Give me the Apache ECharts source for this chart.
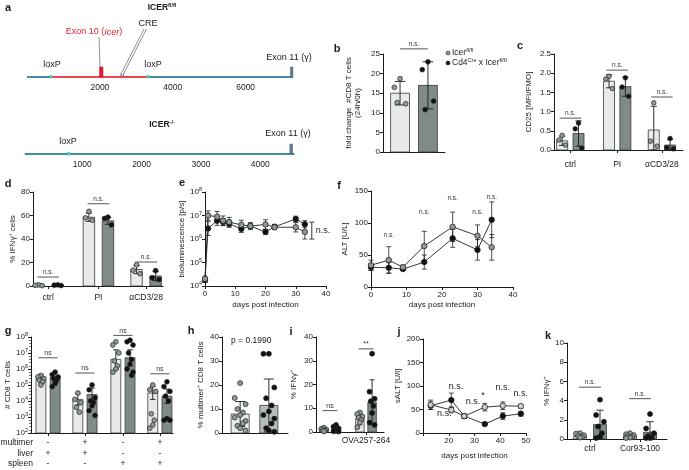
<!DOCTYPE html>
<html>
<head>
<meta charset="utf-8">
<script src="https://cdn.jsdelivr.net/npm/echarts@6/dist/echarts.min.js"></script>
<style>
  html, body { margin: 0; padding: 0; background: #fff; }
  #fig { width: 689px; height: 470px; }
</style>
</head>
<body>
<div id="fig"></div>
<script>
// ---------- data ----------
// a: genomic features (bp)
var aFlLine = [0, 7300];
var aFlFloxed = [660, 3320];
var aFlLoxP = [660, 3320];
var aFlExon10 = [1990, 2060];
var aFlCre = [2590, 2650];
var aFlExon11 = [7230, 7290];
var aKoLine = [30, 4580];
var aKoLoxP = [770];
var aKoExon11 = [4500, 4545];

// b: fold change #CD8 T cells (24h/0h)
var bMean = [15, 17];
var bSd = [3, 6];
var bPoints = [[18.7, 16.5, 12.3, 12.6], [23, 21, 13, 10.8]];
var bSigY = [26.3];

// c: CD25 [MFI/FMO]
var cCats = ['ctrl', 'PI', 'αCD3/28'];
var cFlMean = [0.24, 1.79, 0.52];
var cFlSd = [0.12, 0.17, 0.62];
var cCreMean = [0.43, 1.65, 0.13];
var cCreSd = [0.33, 0.25, 0.15];
var cFlPoints = [[0.38, 0.26, 0.13], [1.92, 1.85, 1.6], [1.23, 0.23, 0.1]];
var cCrePoints = [[0.70, 0.55, 0.05], [1.88, 1.64, 1.4], [0.3, 0.06, 0.03]];
var cSigY = [0.83, 2.08, 1.38];

// d: % IFNg+ cells
var dCats = ['ctrl', 'PI', 'αCD3/28'];
var dFlMean = [0.6, 58.5, 14];
var dFlSd = [0.3, 3.5, 3.5];
var dCreMean = [0.7, 55.5, 8.5];
var dCreSd = [0.3, 3, 4];
var dFlPoints = [[0.9, 0.6, 0.3], [63.5, 58, 56], [18, 13.5, 10.5]];
var dCrePoints = [[1, 0.7, 0.4], [58.5, 57.5, 52], [13, 7, 5.5]];
var dSigY = [7.6, 70, 20.4];

// e: bioluminescence (log10 p/s)
var eDays = [0, 1, 4, 6, 8, 12, 15, 20, 23, 30, 33];
var eFlLog = [4.3, 7.0, 6.95, 6.78, 6.72, 6.6, 6.55, 6.62, 6.5, 6.5, 6.3];
var eFlSdLog = [0.12, 0.2, 0.22, 0.2, 0.2, 0.2, 0.15, 0.2, 0.1, 0.2, 0.3];
var eCreLog = [4.25, 6.45, 6.78, 6.72, 6.65, 6.43, 6.55, 6.3, 6.52, 6.85, 6.63];
var eCreSdLog = [0.1, 0.3, 0.2, 0.15, 0.15, 0.15, 0.1, 0.1, 0.1, 0.12, 0.15];
var eSigBracket = [35.3, 6.0, 6.72];

// f: ALT [U/L]
var fDays = [0, 5, 9, 15, 23, 30, 34];
var fFl = [34, 42, 31, 64, 94, 80, 62];
var fFlSd = [8, 21, 3, 23, 23, 17, 20];
var fCre = [31, 30, 28, 39, 76, 58, 105];
var fCreSd = [5, 8, 2, 11, 14, 16, 28];
var fSigDays = [5, 15, 23, 30, 34];
var fSigY = [81, 117, 139, 117, 140];

// g: # CD8 T cells (log10)
var gMultimer = ['-', '+', '-', '+'];
var gLiver = ['+', '+', '-', '-'];
var gSpleen = ['-', '-', '+', '+'];
var gFlMeanLog = [5.35, 4.1, 6.6, 4.5];
var gFlSdLog = [0.3, 0.35, 0.6, 0.4];
var gCreMeanLog = [5.5, 4.4, 6.7, 4.3];
var gCreSdLog = [0.3, 0.4, 0.5, 0.45];
var gFlPointsLog = [[5.6, 5.5, 5.4, 5.3, 5.2, 5.0], [4.5, 4.1, 3.9, 3.6, 3.3],
  [7.7, 7.5, 7.0, 6.5, 6.2, 6.0, 5.8], [5.0, 4.7, 4.6, 3.2, 2.8, 2.5, 2.3]];
var gCrePointsLog = [[5.8, 5.65, 5.5, 5.4, 5.3, 5.1, 4.9], [5.0, 4.7, 4.2, 4.0, 3.9, 3.7, 3.4, 3.1],
  [7.8, 7.7, 7.5, 7.0, 6.6, 6.3, 6.0, 5.8, 5.6], [5.2, 4.9, 4.6, 4.3, 4.0, 2.9, 2.8, 2.8]];
var gSigLog = [6.7, 5.75, 8.1, 5.7];

// h: % multimer+ CD8 T cells
var hMean = [7.9, 11.5];
var hSd = [5.2, 11];
var hPoints = [[20.8, 14.6, 12, 10, 8.5, 7.5, 6.5, 5, 4, 3, 2, 1],
  [33, 33, 19, 14.5, 11.5, 9, 7.5, 6, 4, 2, 1, 0.5]];
var hPText = 'p = 0.1990';

// i: % IFNg+
var iCats = ['medium', 'OVA257-264'];
var iFlMean = [1.0, 5.6];
var iFlSd = [0.6, 2.6];
var iCreMean = [1.3, 12.5];
var iCreSd = [1.0, 9.5];
var iFlPoints = [[1.8, 1.3, 1.0, 0.7, 0.5, 0.3], [8.2, 7.5, 6.5, 6, 5, 4, 2]];
var iCrePoints = [[3.0, 2.2, 1.5, 1.0, 0.7, 0.5, 0.3, 0.2], [33, 17, 14, 13, 11, 8, 4, 3]];
var iSigY = [9, 35];
var iSigText = ['ns', '**'];

// j: sALT [U/l]
var jDays = [13, 21, 26, 34, 41, 48];
var jFl = [60, 49, 36, 55, 58, 57];
var jFlSd = [10, 6, 5, 8, 8, 4];
var jCre = [58, 70, 36, 19, 36, 41];
var jCreSd = [8, 15, 4, 3, 7, 5];
var jSigX = [18.3, 22.8, 29.4, 33.3, 41, 48];
var jSigY = [42, 98, 68, 80, 96, 85];
var jSigText = ['n.s.', 'n.s.', 'n.s.', '*', 'n.s.', 'n.s.'];

// k: % IFNg+
var kCats = ['ctrl', 'Cor93-100'];
var kFlMean = [0.3, 0.3];
var kFlSd = [0.15, 0.15];
var kCreMean = [1.5, 0.7];
var kCreSd = [1.5, 1.1];
var kFlPoints = [[0.6, 0.55, 0.4, 0.3, 0.2, 0.15], [0.6, 0.5, 0.4, 0.3, 0.2, 0.15, 0.1]];
var kCrePoints = [[4.1, 2.5, 1.8, 1.3, 0.6, 0.25, 0.1], [2.6, 1.1, 0.6, 0.3, 0.15, 0.1, 0.1]];
var kSigY = [5.4, 4.2];

// ---------- styles / layout ----------
var FONT = '"Liberation Sans", Arial, Helvetica, sans-serif';
var INK = '#1a1a1a';
var BAR_FILL = ['#e8ebe9', '#7f8b87', '#b3bebb'];
var DOT_FILL = ['#8d9a96', '#111111'];
var JIT = [0, -1, 1, -0.5, 0.5, 0, -1, 1, 0.5, -0.5, 0, 1];
var RICH = {
  s: { fontSize: 5.5, fontFamily: FONT, color: INK, padding: [0, 0, 5, 0] }
};

// slot positions of the categories on each bar panel's x axis
var bPos = [0.55, 1.45];
var cPos = [0.38, 1.47, 2.51];
var dPos = [0.35, 1.51, 2.61];
var gPos = [0.48, 1.52, 2.59, 3.63];
var hPos = [0.55, 1.42];
var iPos = [0.41, 1.47];
var kPos = [0.46, 1.46];

var grids = [
  { left: 27, top: 30, width: 266, height: 47 },   // a top
  { left: 23, top: 110, width: 271, height: 44 },  // a bottom
  { left: 383, top: 54, width: 62, height: 98 },   // b
  { left: 554, top: 54, width: 129, height: 96 },  // c
  { left: 33, top: 192, width: 130, height: 94 },  // d
  { left: 205, top: 192, width: 121, height: 94 }, // e
  { left: 371, top: 191, width: 142, height: 96 }, // f
  { left: 31, top: 337, width: 142, height: 96 },  // g
  { left: 222, top: 337, width: 66, height: 96 },  // h
  { left: 316, top: 337, width: 68, height: 95 },  // i
  { left: 423, top: 339, width: 103, height: 94 }, // j
  { left: 567, top: 343, width: 100, height: 96 }  // k
];

function axis(kind, gi, o) {
  o = o || {};
  return {
    type: 'value', gridIndex: gi, min: o.min, max: o.max, interval: o.interval,
    show: o.show !== false,
    name: o.name || '', nameLocation: 'middle', nameGap: o.nameGap || 15,
    nameRotate: kind === 'y' ? 90 : 0,
    nameTextStyle: { fontSize: 8, color: INK, fontFamily: FONT, lineHeight: 9, rich: RICH },
    axisLine: { show: o.line !== false, lineStyle: { color: INK, width: 1 } },
    axisTick: { show: o.ticks !== false, length: 3, lineStyle: { color: INK, width: 1 }, customValues: o.tickValues },
    minorTick: o.minor ? { show: true, splitNumber: 5, length: 2, lineStyle: { color: INK, width: 0.6 } } : { show: false },
    axisLabel: {
      show: o.labels !== false, fontSize: o.fontSize || 8, color: INK, fontFamily: FONT,
      margin: o.margin == null ? 3 : o.margin, formatter: o.formatter,
      customValues: o.labelValues, rich: RICH, lineHeight: o.lineHeight
    },
    splitLine: { show: false }
  };
}

function catFormatter(pos, names) {
  return function (v) {
    var best = 0;
    for (var i = 1; i < pos.length; i++) if (Math.abs(pos[i] - v) < Math.abs(pos[best] - v)) best = i;
    return names[best];
  };
}
function onlyValues(list) {
  return function (v) { return list.indexOf(v) >= 0 ? String(v) : ''; };
}
function pow10(v) { return '10{s|' + v + '}'; }

// ---------- render helpers ----------
function geneRender(params, api) {
  var s = api.coord([api.value(0), 0]), e = api.coord([api.value(1), 0]);
  var t = api.value(2), y = s[1], w = Math.max(e[0] - s[0], 0);
  if (t === 0) return { type: 'rect', shape: { x: s[0], y: y - 1, width: w, height: 2 }, style: { fill: '#3f8da6' } };
  if (t === 1) return { type: 'rect', shape: { x: s[0], y: y - 1, width: w, height: 2 }, style: { fill: '#ef4655' } };
  if (t === 2) return { type: 'rect', shape: { x: s[0] - 1.3, y: y - 2, width: 2.6, height: 3.5 }, style: { fill: '#4fcfae' } };
  if (t === 3) return { type: 'rect', shape: { x: s[0], y: y - 10, width: Math.max(w, 3.5), height: 10 }, style: { fill: '#e41f2d', stroke: '#b0141f', lineWidth: 0.5 } };
  if (t === 4) return {
    type: 'group', children: [
      { type: 'line', shape: { x1: s[0], y1: y - 3.5, x2: s[0], y2: y + 1 }, style: { stroke: '#666', lineWidth: 0.6 } },
      { type: 'line', shape: { x1: e[0], y1: y - 3.5, x2: e[0], y2: y + 1 }, style: { stroke: '#666', lineWidth: 0.6 } }
    ]
  };
  return { type: 'rect', shape: { x: s[0], y: y - 10, width: Math.max(w, 2.5), height: 10 }, style: { fill: '#5d7e8e', stroke: '#44606e', lineWidth: 0.5 } };
}

function barRender(bw, base) {
  return function (params, api) {
    var x = api.value(0), m = api.value(1), sd = api.value(2), kind = api.value(3);
    var u = api.size([1, 0])[0];
    var top = api.coord([x, m]), bot = api.coord([x, base]);
    var w = bw * u, cx = top[0];
    var hi = api.coord([x, m + sd])[1], lo = api.coord([x, Math.max(base, m - sd)])[1];
    var cap = Math.max(2, w * 0.28);
    var ls = { stroke: INK, lineWidth: 0.9 };
    return {
      type: 'group', children: [
        { type: 'rect', shape: { x: cx - w / 2, y: top[1], width: w, height: bot[1] - top[1] }, style: { fill: BAR_FILL[kind], stroke: '#3a3a3a', lineWidth: 0.8 } },
        { type: 'line', shape: { x1: cx, y1: hi, x2: cx, y2: lo }, style: ls },
        { type: 'line', shape: { x1: cx - cap, y1: hi, x2: cx + cap, y2: hi }, style: ls },
        { type: 'line', shape: { x1: cx - cap, y1: lo, x2: cx + cap, y2: lo }, style: ls }
      ]
    };
  };
}

function dotRender(r) {
  return function (params, api) {
    var p = api.coord([api.value(0), api.value(1)]);
    var u = api.size([1, 0])[0];
    return {
      type: 'circle', shape: { cx: p[0] + api.value(2) * u, cy: p[1], r: r },
      style: { fill: DOT_FILL[api.value(3)], stroke: '#222', lineWidth: 0.7 }
    };
  };
}

function sigRender(labels, fs, color) {
  return function (params, api) {
    var x1 = api.value(0), x2 = api.value(1), y = api.value(2), li = api.value(3);
    var a = api.coord([x1, y]), b = api.coord([x2, y]);
    var kids = [];
    if (x2 > x1) {
      kids.push({ type: 'line', shape: { x1: a[0], y1: a[1], x2: b[0], y2: b[1] }, style: { stroke: '#555', lineWidth: 1 } });
      kids.push({ type: 'text', x: (a[0] + b[0]) / 2, y: a[1] - 1, style: { text: labels[li], fontSize: fs, fontFamily: FONT, fill: color || '#333', align: 'center', verticalAlign: 'bottom' } });
    } else {
      kids.push({ type: 'text', x: a[0], y: a[1], style: { text: labels[li], fontSize: fs, fontFamily: FONT, fill: color || '#333', align: 'center', verticalAlign: 'middle' } });
    }
    return { type: 'group', children: kids };
  };
}

function errRender(params, api) {
  var x = api.value(0), m = api.value(1), sd = api.value(2);
  var hi = api.coord([x, m + sd]), lo = api.coord([x, m - sd]);
  var ls = { stroke: '#222', lineWidth: 0.8 };
  return {
    type: 'group', children: [
      { type: 'line', shape: { x1: hi[0], y1: hi[1], x2: lo[0], y2: lo[1] }, style: ls },
      { type: 'line', shape: { x1: hi[0] - 2.5, y1: hi[1], x2: hi[0] + 2.5, y2: hi[1] }, style: ls },
      { type: 'line', shape: { x1: lo[0] - 2.5, y1: lo[1], x2: lo[0] + 2.5, y2: lo[1] }, style: ls }
    ]
  };
}

function bracketRender(params, api) {
  var t = api.coord([api.value(0), api.value(2)]), b = api.coord([api.value(0), api.value(1)]);
  var ls = { stroke: '#222', lineWidth: 0.9 };
  return {
    type: 'group', children: [
      { type: 'line', shape: { x1: t[0], y1: t[1], x2: b[0], y2: b[1] }, style: ls },
      { type: 'line', shape: { x1: t[0] - 2.5, y1: t[1], x2: t[0] + 2.5, y2: t[1] }, style: ls },
      { type: 'line', shape: { x1: b[0] - 2.5, y1: b[1], x2: b[0] + 2.5, y2: b[1] }, style: ls },
      { type: 'text', x: t[0] + 4, y: (t[1] + b[1]) / 2, style: { text: 'n.s.', fontSize: 9, fontFamily: FONT, fill: '#222', align: 'left', verticalAlign: 'middle' } }
    ]
  };
}

function custom(gi, data, render, z) {
  return { type: 'custom', coordinateSystem: 'cartesian2d', xAxisIndex: gi, yAxisIndex: gi, data: data, renderItem: render, z: z || 2, clip: false, silent: true };
}

// groups: [{x, mean, sd, pts, kind}]
function barPanel(gi, groups, bw, base, r) {
  var bars = [], dots = [];
  groups.forEach(function (g) {
    bars.push([g.x, g.mean, g.sd, g.kind]);
    g.pts.forEach(function (v, k) { dots.push([g.x, v, JIT[k % JIT.length] * bw * 0.3, g.kind > 0 ? 1 : 0]); });
  });
  return [custom(gi, bars, barRender(bw, base), 2), custom(gi, dots, dotRender(r), 4)];
}

function pairGroups(pos, off, flMean, flSd, creMean, creSd, flPts, crePts, darkKind) {
  var out = [];
  pos.forEach(function (p, i) {
    out.push({ x: p - off, mean: flMean[i], sd: flSd[i], pts: flPts[i], kind: 0 });
    out.push({ x: p + off, mean: creMean[i], sd: creSd[i], pts: crePts[i], kind: darkKind || 1 });
  });
  return out;
}

function zip(xs, ys, extra) {
  return xs.map(function (x, i) { return extra ? [x, ys[i], extra[i]] : [x, ys[i]]; });
}

function lineSeries(gi, data, kind) {
  return {
    type: 'line', xAxisIndex: gi, yAxisIndex: gi, data: data, symbol: 'circle', symbolSize: 5.5,
    itemStyle: { color: DOT_FILL[kind], borderColor: '#222', borderWidth: 0.8 },
    lineStyle: { color: '#222', width: 0.9 }, z: 4 - kind, silent: true
  };
}

// ---------- axes ----------
var xAxes = [
  axis('x', 0, { min: 0, max: 7300, interval: 2000, line: false, ticks: false, margin: 6, fontSize: 8.5, formatter: onlyValues([2000, 4000, 6000]) }),
  axis('x', 1, { min: 0, max: 4570, interval: 1000, line: false, ticks: false, margin: 6, fontSize: 8.5, formatter: onlyValues([1000, 2000, 3000, 4000]) }),
  axis('x', 2, { min: 0, max: 2, ticks: false, labels: false }),
  axis('x', 3, { min: 0, max: 3, tickValues: cPos, labelValues: cPos, formatter: catFormatter(cPos, cCats), margin: 10, fontSize: 8.5 }),
  axis('x', 4, { min: 0, max: 3, tickValues: dPos, labelValues: dPos, formatter: catFormatter(dPos, dCats), margin: 7, fontSize: 8.5 }),
  axis('x', 5, { min: 0, max: 40, interval: 10, margin: 4, name: 'days post infection', nameGap: 14 }),
  axis('x', 6, { min: 0, max: 40, interval: 10, margin: 4, name: 'days post infection', nameGap: 12 }),
  axis('x', 7, {
    min: 0, max: 4, tickValues: gPos, labelValues: gPos, margin: 4.5, lineHeight: 10.5, fontSize: 8.5,
    formatter: function (v) {
      var i = catFormatter(gPos, [0, 1, 2, 3])(v);
      return gMultimer[i] + '\n' + gLiver[i] + '\n' + gSpleen[i];
    }
  }),
  axis('x', 8, { min: 0, max: 2, ticks: false, labels: false }),
  axis('x', 9, { min: 0, max: 2, tickValues: iPos, labelValues: iPos, formatter: catFormatter(iPos, iCats), margin: 4, fontSize: 8.5 }),
  axis('x', 10, { min: 10, max: 50, interval: 10, margin: 4, formatter: onlyValues([20, 30, 40, 50]), name: 'days post infection', nameGap: 18 }),
  axis('x', 11, { min: 0, max: 2, tickValues: kPos, labelValues: kPos, formatter: catFormatter(kPos, kCats), margin: 5, fontSize: 8.5 })
];

var yAxes = [
  axis('y', 0, { min: 0, max: 10, show: false }),
  axis('y', 1, { min: 0, max: 10, show: false }),
  axis('y', 2, { min: 0, max: 25, interval: 5, name: 'fold change  #CD8 T cells\n(24h/0h)', nameGap: 21 }),
  axis('y', 3, { min: 0, max: 2.5, interval: 0.5, name: 'CD25 [MFI/FMO]', nameGap: 21, formatter: function (v) { return v.toFixed(1); } }),
  axis('y', 4, { min: 0, max: 80, interval: 20, name: '% IFNγ{s|+} cells', nameGap: 16 }),
  axis('y', 5, { min: 4, max: 8, interval: 1, formatter: pow10, name: 'bioluminescence [p/s]', nameGap: 16 }),
  axis('y', 6, { min: 0, max: 150, interval: 50, name: 'ALT [U/L]', nameGap: 22 }),
  axis('y', 7, { min: 2, max: 8, interval: 1, formatter: pow10, minor: true, name: '# CD8 T cells', nameGap: 19 }),
  axis('y', 8, { min: 0, max: 40, interval: 10, name: '% multimer{s|+} CD8 T cells', nameGap: 17 }),
  axis('y', 9, { min: 0, max: 40, interval: 10, name: '% IFNγ{s|+}', nameGap: 18 }),
  axis('y', 10, { min: 0, max: 200, interval: 50, name: 'sALT [U/l]', nameGap: 14 }),
  axis('y', 11, { min: 0, max: 10, interval: 2, name: '% IFNγ{s|+}', nameGap: 12 })
];

// ---------- series ----------
var series = [];

// a
var aFlRows = [
  [aFlLine[0], aFlLine[1], 0], [aFlFloxed[0], aFlFloxed[1], 1],
  [aFlLoxP[0], aFlLoxP[0], 2], [aFlLoxP[1], aFlLoxP[1], 2],
  [aFlExon10[0], aFlExon10[1], 3], [aFlCre[0], aFlCre[1], 4], [aFlExon11[0], aFlExon11[1], 5]
];
var aKoRows = [
  [aKoLine[0], aKoLine[1], 0], [aKoLoxP[0], aKoLoxP[0], 2], [aKoExon11[0], aKoExon11[1], 5]
];
series.push(custom(0, aFlRows, geneRender), custom(1, aKoRows, geneRender));

// b
series = series.concat(barPanel(2, [
  { x: bPos[0], mean: bMean[0], sd: bSd[0], pts: bPoints[0], kind: 0 },
  { x: bPos[1], mean: bMean[1], sd: bSd[1], pts: bPoints[1], kind: 1 }
], 0.61, 0, 2.4));
series.push(custom(2, [[bPos[0], bPos[1], bSigY[0], 0]], sigRender(['n.s.'], 6.5), 5));

// c
var cOff = 0.19;
series = series.concat(barPanel(3, pairGroups(cPos, cOff, cFlMean, cFlSd, cCreMean, cCreSd, cFlPoints, cCrePoints), 0.256, 0, 2.3));
series.push(custom(3, cPos.map(function (p, i) { return [p - 0.25, p + 0.25, cSigY[i], 0]; }), sigRender(['n.s.'], 6.5), 5));

// d
var dOff = 0.22;
series = series.concat(barPanel(4, pairGroups(dPos, dOff, dFlMean, dFlSd, dCreMean, dCreSd, dFlPoints, dCrePoints), 0.265, 0, 2.4));
series.push(custom(4, dPos.map(function (p, i) { return [p - 0.25, p + 0.25, dSigY[i], 0]; }), sigRender(['n.s.'], 6.5), 5));

// e
series.push(custom(5, zip(eDays, eFlLog, eFlSdLog), errRender, 3));
series.push(custom(5, zip(eDays, eCreLog, eCreSdLog), errRender, 3));
series.push(lineSeries(5, zip(eDays, eCreLog), 1));
series.push(lineSeries(5, zip(eDays, eFlLog), 0));
series.push(custom(5, [eSigBracket], bracketRender, 5));

// f
series.push(custom(6, zip(fDays, fFl, fFlSd), errRender, 3));
series.push(custom(6, zip(fDays, fCre, fCreSd), errRender, 3));
series.push(lineSeries(6, zip(fDays, fCre), 1));
series.push(lineSeries(6, zip(fDays, fFl), 0));
series.push(custom(6, fSigDays.map(function (d, i) { return [d, d, fSigY[i], 0]; }), sigRender(['n.s.'], 6.5), 5));

// g
var gOff = 0.2;
series = series.concat(barPanel(7, pairGroups(gPos, gOff, gFlMeanLog, gFlSdLog, gCreMeanLog, gCreSdLog, gFlPointsLog, gCrePointsLog), 0.28, 2, 2.4));
series.push(custom(7, gPos.map(function (p, i) { return [p - 0.27, p + 0.27, gSigLog[i], 0]; }), sigRender(['ns'], 7), 5));

// h
series = series.concat(barPanel(8, [
  { x: hPos[0], mean: hMean[0], sd: hSd[0], pts: hPoints[0], kind: 0 },
  { x: hPos[1], mean: hMean[1], sd: hSd[1], pts: hPoints[1], kind: 2 }
], 0.55, 0, 2.5));

// i
var iOff = 0.18;
series = series.concat(barPanel(9, pairGroups(iPos, iOff, iFlMean, iFlSd, iCreMean, iCreSd, iFlPoints, iCrePoints), 0.25, 0, 2.5));
series.push(custom(9, iPos.map(function (p, i) { return [p - 0.22, p + 0.22, iSigY[i], i]; }), sigRender(iSigText, 7), 5));

// j
series.push(custom(10, zip(jDays, jFl, jFlSd), errRender, 3));
series.push(custom(10, zip(jDays, jCre, jCreSd), errRender, 3));
series.push(lineSeries(10, zip(jDays, jCre), 1));
var jFlLine = lineSeries(10, zip(jDays, jFl), 0);
jFlLine.itemStyle.color = '#c9d0cd';
series.push(jFlLine);
series.push(custom(10, jSigX.map(function (d, i) { return [d, d, jSigY[i], i]; }), sigRender(jSigText, 9, '#222'), 5));

// k
var kOff = 0.2;
series = series.concat(barPanel(11, pairGroups(kPos, kOff, kFlMean, kFlSd, kCreMean, kCreSd, kFlPoints, kCrePoints), 0.26, 0, 2.5));
series.push(custom(11, kPos.map(function (p, i) { return [p - 0.22, p + 0.22, kSigY[i], 0]; }), sigRender(['n.s.'], 6.5), 5));

// ---------- text annotations ----------
function txt(x, y, s, o) {
  o = o || {};
  return {
    type: 'text', x: x, y: y, z: 10,
    style: {
      text: s, fontSize: o.fs || 8.5, fontFamily: FONT, fontWeight: o.fw || 'normal',
      fill: o.color || INK, align: o.align || 'center', verticalAlign: 'middle', rich: o.rich
    }
  };
}
function seg(x1, y1, x2, y2, w) {
  return { type: 'line', z: 10, shape: { x1: x1, y1: y1, x2: x2, y2: y2 }, style: { stroke: '#444', lineWidth: w || 0.6 } };
}
var titleRich = {
  b: { fontSize: 8.5, fontWeight: 'bold', fontFamily: FONT, fill: INK },
  s: { fontSize: 5.5, fontWeight: 'bold', fontFamily: FONT, fill: INK, padding: [0, 0, 5, 0] }
};
var legRich = {
  t: { fontSize: 8.5, fontFamily: FONT, fill: INK },
  s: { fontSize: 5.5, fontFamily: FONT, fill: INK, padding: [0, 0, 5, 0] }
};
var exonRich = {
  r: { fontSize: 9, fontFamily: FONT, fill: '#e8202d' },
  i: { fontSize: 9, fontFamily: FONT, fill: '#e8202d', fontStyle: 'italic' }
};

var graphics = [
  txt(8, 8, 'a', { fs: 11, fw: 'bold' }),
  txt(337, 49, 'b', { fs: 11, fw: 'bold' }),
  txt(520, 46, 'c', { fs: 11, fw: 'bold' }),
  txt(8, 184, 'd', { fs: 11, fw: 'bold' }),
  txt(182, 183, 'e', { fs: 11, fw: 'bold' }),
  txt(339, 186, 'f', { fs: 11, fw: 'bold' }),
  txt(8, 331, 'g', { fs: 11, fw: 'bold' }),
  txt(191, 331, 'h', { fs: 11, fw: 'bold' }),
  txt(291, 332, 'i', { fs: 11, fw: 'bold' }),
  txt(399, 332, 'j', { fs: 11, fw: 'bold' }),
  txt(548, 336, 'k', { fs: 11, fw: 'bold' }),

  // panel a labels
  txt(162, 8, '{b|ICER}{s|fl/fl}', { rich: titleRich }),
  txt(162, 125, '{b|ICER}{s|-/-}', { rich: titleRich }),
  txt(94, 32, '{r|Exon 10 (}{i|Icer}{r|)}', { rich: exonRich }),
  seg(99, 37, 100, 67),
  txt(148, 24, 'CRE', { fs: 9 }),
  seg(144, 29, 120, 76), seg(146.5, 29, 122.5, 76),
  txt(52, 65, 'loxP', { fs: 9 }),
  txt(153, 65, 'loxP', { fs: 9 }),
  txt(289, 58, 'Exon 11 (γ)', { fs: 9 }),
  txt(68, 142, 'loxP', { fs: 9 }),
  txt(288, 134, 'Exon 11 (γ)', { fs: 9 }),

  // legend (b)
  { type: 'circle', z: 10, shape: { cx: 448, cy: 53, r: 2 }, style: { fill: DOT_FILL[0], stroke: '#222', lineWidth: 0.6 } },
  txt(452, 53, '{t|Icer}{s|fl/fl}', { align: 'left', rich: legRich }),
  { type: 'circle', z: 10, shape: { cx: 448, cy: 63, r: 2 }, style: { fill: DOT_FILL[1], stroke: '#222', lineWidth: 0.6 } },
  txt(452, 63, '{t|Cd4}{s|Cre}{t| x Icer}{s|fl/fl}', { align: 'left', rich: legRich }),

  // h p value
  txt(231, 341, hPText, { align: 'left', fs: 8.5 }),

  // g row titles
  txt(33, 443, 'multimer', { align: 'right' }),
  txt(33, 453.5, 'liver', { align: 'right' }),
  txt(33, 464, 'spleen', { align: 'right' })
];

var chart = echarts.init(document.getElementById('fig'));
chart.setOption({
  animation: false,
  textStyle: { fontFamily: FONT },
  grid: grids,
  xAxis: xAxes,
  yAxis: yAxes,
  series: series,
  graphic: graphics
});
</script>
</body>
</html>
